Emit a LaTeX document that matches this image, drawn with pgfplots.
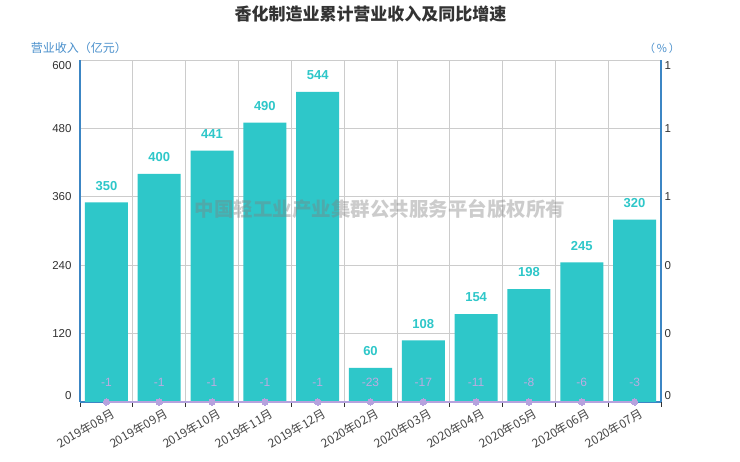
\documentclass[border=0pt]{standalone}
\usepackage{pgfplots}
\pgfplotsset{compat=1.18}
\pgfkeys{/pgf/number format/assume math mode=true}
\usepackage{fontspec}
\setmainfont{Liberation Sans}
\newfontfamily\cjk{Noto Sans CJK SC}
\definecolor{barc}{HTML}{2EC7C9}
\definecolor{linec}{HTML}{B6A2DE}
\definecolor{axc}{HTML}{3C86C4}
\definecolor{namec}{HTML}{4A90CC}
\definecolor{gridc}{HTML}{CCCCCC}
\definecolor{txt}{HTML}{333333}
\begin{document}
\begin{tikzpicture}[x=1pt,y=1pt]
\useasboundingbox (-80,-60) rectangle (660,402);
\fill[white] (-80,-60) rectangle (660,402);
\begin{axis}[
  at={(0,0)}, anchor=south west,
  scale only axis, width=581pt, height=342pt,
  xmin=-0.5, xmax=10.5, ymin=0, ymax=600,
  axis x line*=bottom, axis y line*=left,
  x axis line style={axc, line width=2pt},
  y axis line style={axc, line width=2pt},
  xtick={-0.5,0.5,1.5,2.5,3.5,4.5,5.5,6.5,7.5,8.5,9.5,10.5},
  xticklabels={},
  xmajorgrids, ymajorgrids,
  grid style={gridc, line width=0.8pt},
  tick align=outside, major tick length=5pt,
  xtick style={draw=txt, line width=0.8pt},
  extra x ticks={0,1,2,3,4,5,6,7,8,9,10},
  extra x tick labels={2019年08月,2019年09月,2019年10月,2019年11月,2019年12月,2020年02月,2020年03月,2020年04月,2020年05月,2020年06月,2020年07月},
  extra x tick style={grid=none, major tick length=0pt,
    tick label style={font=\cjk\fontsize{12}{13}\selectfont, rotate=30, anchor=north east, text=txt!90, inner sep=1pt, xshift=2pt, yshift=-6pt}},
  ytick={0,120,240,360,480,600},
  yticklabels={\raisebox{6pt}[8pt][0pt]{0},120,240,360,480,\raisebox{-6pt}[8pt][0pt]{600}},
  ytick style={draw=none},
  yticklabel style={font=\fontsize{11.5}{12}\selectfont, text=txt},
]
\addplot[ybar, bar width=43pt, fill=barc, draw=none,
  nodes near coords,
  nodes near coords style={font=\bfseries\fontsize{13}{14}\selectfont, text=barc, anchor=south, inner sep=0pt, yshift=12pt},
] coordinates {(0,350) (1,400) (2,441) (3,490) (4,544) (5,60) (6,108) (7,154) (8,198) (9,245) (10,320)};
\end{axis}
\begin{axis}[
  at={(0,0)}, anchor=south west,
  scale only axis, width=581pt, height=342pt,
  xmin=-0.5, xmax=10.5, ymin=0, ymax=1,
  axis y line*=right, axis x line=none,
  y axis line style={axc, line width=2pt},
  ytick={0,0.2,0.4,0.6,0.8,1},
  yticklabels={\raisebox{6pt}[8pt][0pt]{0},0,0,1,1,\raisebox{-6pt}[8pt][0pt]{1}},
  ytick style={draw=none},
  yticklabel style={font=\fontsize{11.5}{12}\selectfont, text=txt},
  clip=false,
]
\addplot[linec, line width=2.5pt, mark=*, mark size=3.2pt, mark options={fill=linec, draw=linec, line width=0pt},
  y filter/.expression={max(y,0)}, point meta=rawy,
  nodes near coords,
  nodes near coords style={font=\fontsize{12}{13}\selectfont, text=linec!90!white, anchor=south, inner sep=0pt, yshift=15pt},
] coordinates {(0,-1) (1,-1) (2,-1) (3,-1) (4,-1) (5,-23) (6,-17) (7,-11) (8,-8) (9,-6) (10,-3)};
\end{axis}
\node[font=\cjk\bfseries\fontsize{17}{20}\selectfont, text=txt] at (290.5,388) {香化制造业累计营业收入及同比增速};
\node[font=\cjk\fontsize{12}{13}\selectfont, text=namec] at (-1,354) {营业收入（亿元）};
\node[font=\cjk\fontsize{11}{13}\selectfont, text=namec] at (582,354) {（\,\%\,）};
\node[font=\cjk\bfseries\fontsize{19.5}{22}\selectfont, text=gray, opacity=0.4] at (300,193) {中国轻工业产业集群公共服务平台版权所有};
\end{tikzpicture}
\end{document}
